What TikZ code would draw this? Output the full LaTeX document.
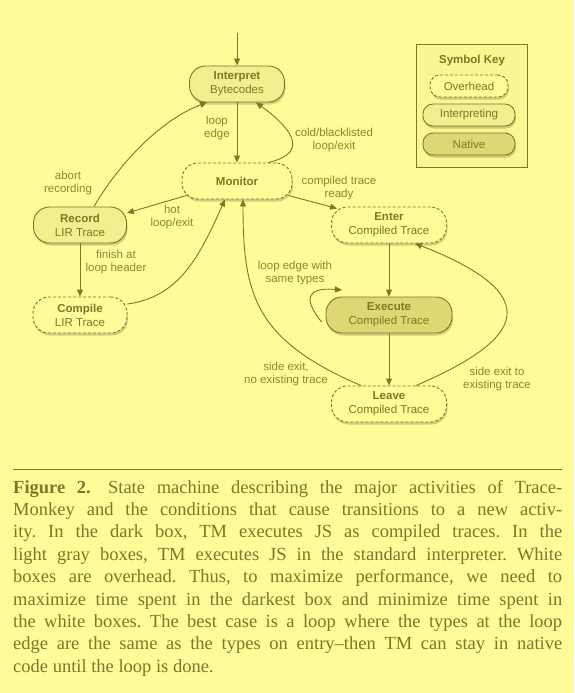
\documentclass[tikz,border=0pt]{standalone}
\usepackage{fontspec}
\setmainfont{Liberation Serif}
\setsansfont{Liberation Sans}
\usetikzlibrary{arrows.meta,shadows}
\definecolor{bgcol}{RGB}{255,251,153}
\definecolor{keycol}{RGB}{250,246,146}
\definecolor{intcol}{RGB}{243,238,142}
\definecolor{natcol}{RGB}{222,216,116}
\definecolor{edgecol}{RGB}{125,120,38}
\definecolor{txtcol}{RGB}{125,120,38}
\definecolor{lblcol}{RGB}{140,135,50}
\tikzset{
  state/.style={rectangle, rounded corners=16pt, draw=edgecol, line width=0.9pt,
    minimum height=36pt, align=center, inner sep=0pt, text=txtcol,
    font=\sffamily\fontsize{11.5}{14}\selectfont,
    drop shadow={shadow xshift=1pt, shadow yshift=-2.5pt, opacity=0.18, fill=black}},
  overhead/.style={state, fill=bgcol, dash pattern=on 3pt off 2pt},
  interpst/.style={state, fill=intcol},
  nativest/.style={state, fill=natcol},
  keyst/.style={rounded corners=10pt, minimum height=22pt},
  conn/.style={draw=edgecol, line width=0.9pt, -{Triangle[width=6pt,length=7pt]}},
  lbl/.style={font=\sffamily\fontsize{11.5}{13.3}\selectfont, text=lblcol, align=center, inner sep=0pt}
}
\begin{document}
\begin{tikzpicture}[x=1pt,y=-1pt]
\fill[bgcol] (0,0) rectangle (574,693);
\useasboundingbox (0,0) rectangle (574,693);

% key box
\node[draw=edgecol, line width=0.7pt, fill=keycol, minimum width=111pt, minimum height=123pt, inner sep=0pt] (keybox) at (471.5,105.5) {};
\node[lbl, text=txtcol, font=\sffamily\bfseries\fontsize{11.5}{14}\selectfont] (keytitle) at (472,61) {Symbol Key};
\node[overhead, keyst, minimum width=78pt] (kover) at (469,86) {Overhead};
\node[interpst, keyst, minimum width=92pt] (kint) at (469,115) {Interpreting};
\node[nativest, keyst, minimum width=92pt] (knat) at (469,144) {Native};

% states
\node[interpst, minimum width=95pt] (interp) at (237,84) {\textbf{Interpret}\\Bytecodes};
\node[overhead, minimum width=110pt] (mon) at (237,181) {\textbf{Monitor}};
\node[interpst, minimum width=93pt] (rec) at (80,225) {\textbf{Record}\\LIR Trace};
\node[overhead, minimum width=94pt] (comp) at (80,315) {\textbf{Compile}\\LIR Trace};
\node[overhead, minimum width=115pt] (enter) at (389,225) {\textbf{Enter}\\Compiled Trace};
\node[nativest, minimum width=126pt] (exec) at (389,315) {\textbf{Execute}\\Compiled Trace};
\node[overhead, minimum width=115pt] (leave) at (389,404) {\textbf{Leave}\\Compiled Trace};

\coordinate (start) at (237,33);
\coordinate (loopend) at (342,290);

% connectors
\draw[conn] (start) -- (interp);
\draw[conn] (interp) -- (mon);
\draw[conn] ([xshift=31pt]mon.north) .. controls (302,155) and (302,136) .. ([xshift=19pt]interp.south);
\draw[conn] ([xshift=14pt]rec.north) .. controls (118,165) and (160,120) .. ([xshift=-30pt]interp.south);
\draw[conn] ([shift={(5,-4)}]mon.south west) -- ([shift={(0,-12)}]rec.east);
\draw[conn] (rec) -- (comp);
\draw[conn] ([shift={(0,-11)}]comp.east) .. controls (180,297) and (200,255) .. ([xshift=-12pt]mon.south);
\draw[conn] ([shift={(-4,-4)}]mon.south east) -- ([shift={(6,2)}]enter.north west);
\draw[conn] (enter) -- (exec);
\draw[conn] (exec) -- (leave);
\draw[conn] ([shift={(-4,7)}]exec.west) .. controls (304,300) and (305,287) .. (loopend);
\draw[conn] ([xshift=-28pt]leave.north) .. controls (255,340) and (243,295) .. ([xshift=6pt]mon.south);
\draw[conn] ([xshift=27pt]leave.north) .. controls (510,345) and (560,300) .. ([xshift=26pt]enter.south);

% labels
\node[lbl] (l1) at (217,128) {loop\\edge};
\node[lbl] (l2) at (334,140) {cold/blacklisted\\loop/exit};
\node[lbl] (l3) at (68,183) {abort\\recording};
\node[lbl] (l4) at (172,217) {hot\\loop/exit};
\node[lbl] (l5) at (116,262) {finish at\\loop header};
\node[lbl] (l6) at (339,188) {compiled trace\\ready};
\node[lbl] (l7) at (295,273) {loop edge with\\same types};
\node[lbl] (l8) at (286,374) {side exit,\\no existing trace};
\node[lbl] (l9) at (497,379) {side exit to\\existing trace};

% caption
\coordinate (rulel) at (13,469);
\coordinate (ruler) at (562,469);
\draw[edgecol, line width=0.6pt] (rulel) -- (ruler);
\node[anchor=base west, inner sep=0pt, text=txtcol] (cap) at (13,493) {\parbox[t]{549pt}{\fontsize{18.5}{22.4}\selectfont\frenchspacing\hyphenpenalty=10000\tolerance=10000
\textbf{Figure 2.}\hspace{0.3em} State machine describing the major activities of Trace-\linebreak
Monkey and the conditions that cause transitions to a new activ-\linebreak
ity. In the dark box, TM executes JS as compiled traces. In the\linebreak
light gray boxes, TM executes JS in the standard interpreter. White\linebreak
boxes are overhead. Thus, to maximize performance, we need to\linebreak
maximize time spent in the darkest box and minimize time spent in\linebreak
the white boxes. The best case is a loop where the types at the loop\linebreak
edge are the same as the types on entry--then TM can stay in native\linebreak
code until the loop is done.}};
\end{tikzpicture}
\end{document}
